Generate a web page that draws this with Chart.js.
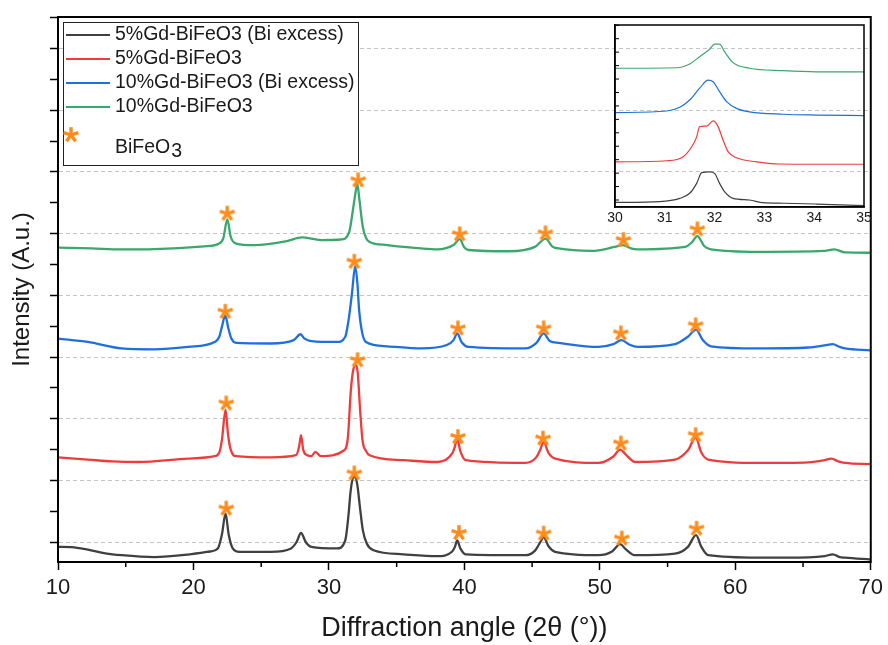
<!DOCTYPE html>
<html>
<head>
<meta charset="utf-8">
<script src="https://cdn.jsdelivr.net/npm/chart.js@4.4.0/dist/chart.umd.min.js"></script>
<style>
  html, body { margin: 0; padding: 0; background: #fff; }
  #wrap { position: relative; width: 888px; height: 645px; }
  #inset { position: absolute; left: 600px; top: 15px; }
</style>
</head>
<body>
<div id="wrap">
  <canvas id="xrd" width="888" height="645"></canvas>
  <canvas id="inset" width="280" height="225"></canvas>
</div>
<script>
// 2-theta positions and offset intensities (a.u.) for each sample
const angGd5Bi = [10.0,11.0,12.2,13.5,14.7,17.1,19.6,21.2,21.8,22.1,22.37,22.6,22.9,23.4,25.7,27.2,27.6,27.94,28.3,28.7,30.6,31.2,31.45,31.6,31.8,31.95,32.1,32.3,32.5,32.8,33.3,35.5,38.0,39.1,39.3,39.47,39.7,40.1,44.5,45.2,45.6,45.85,46.2,46.7,49.9,50.9,51.5,51.9,52.6,55.55,56.5,57.1,57.5,58.0,61.7,65.4,66.6,67.2,67.7,68.1,70.0];
const intGd5Bi = [-15,-16,-24,-36,-42,-48,-40,-30,-20,25,93,25,-20,-31,-31,-20,0,30,0,-15,-20,5,90,165,210,212,185,110,40,-5,-26,-39,-45,-30,-15,6,-20,-39,-42,-28,0,17,-12,-31,-42,-30,-6,-22,-42,-37,-15,23,-15,-42,-50,-49,-45,-39,-48,-50,-56];

const angGd5 = [10.0,12.2,14.0,15.9,19.6,21.56,21.9,22.1,22.37,22.55,22.75,23.15,25.7,27.57,27.8,27.94,28.1,28.4,28.7,29.0,29.4,31.13,31.4,31.62,31.78,31.95,32.12,32.3,32.48,32.75,33.0,35.5,38.0,39.1,39.3,39.47,39.7,40.1,44.5,45.3,45.6,45.85,46.2,46.7,49.9,51.0,51.5,51.9,52.6,55.55,56.5,57.07,57.5,58.0,61.7,65.4,66.5,67.08,67.6,68.1,70.0];
const intGd5 = [275,268,262,260,271,279,290,331,430,350,300,279,275,282,310,347,300,282,279,293,279,298,340,493,555,574,552,430,330,295,282,266,260,288,310,336,295,266,257,275,300,325,290,271,257,278,300,285,260,268,298,339,290,268,257,259,265,271,262,257,253];

const angGd10Bi = [10.0,12.2,14.7,17.1,19.6,21.56,21.9,22.1,22.35,22.55,22.8,23.15,25.7,27.4,27.9,28.2,28.7,30.6,31.2,31.45,31.7,31.94,32.1,32.23,32.45,32.73,34.3,36.8,38.7,39.2,39.47,39.8,40.3,44.5,45.3,45.85,46.3,46.96,49.9,51.0,51.6,52.2,52.8,55.55,56.5,57.1,57.6,58.2,61.7,65.4,66.6,67.2,67.7,68.1,70.0];
const intGd10Bi = [660,649,628,625,633,649,665,698,736,698,660,646,644,655,674,660,652,649,665,720,806,895,840,752,680,649,635,628,639,655,677,648,633,628,645,677,652,646,633,642,655,640,633,642,666,689,655,635,628,631,638,642,633,628,622];

const angGd10 = [10.0,12.5,14.7,17.1,20.8,21.8,22.2,22.5,22.75,23.15,24.5,26.9,28.0,29.4,30.9,31.5,31.75,31.9,32.1,32.25,32.5,32.75,33.0,34.3,36.8,38.0,39.2,39.65,40.0,40.3,43.3,45.2,46.0,46.5,46.96,49.4,51.1,51.7,52.3,52.8,56.3,56.8,57.2,57.7,58.2,61.7,66.6,67.3,68.1,70.0];
const intGd10 = [955,952,949,950,959,966,985,1046,990,968,963,976,988,979,981,1006,1070,1115,1160,1110,1022,985,973,963,952,949,963,982,955,947,943,957,984,958,952,944,957,963,952,949,957,972,992,960,949,941,944,949,939,938];

// BiFeO3 reflections marked above each pattern
const starAng = [22.42,31.87,39.6,45.85,51.62,57.14, 22.42,32.11,39.52,45.8,51.55,57.07, 22.35,31.87,39.52,45.85,51.55,57.07, 22.49,32.16,39.65,45.98,51.74,57.2];
const starInt = [109,223,30,28,12,44, 450,590,341,336,320,347, 747,909,693,693,677,703, 1065,1173,998,1001,979,1014];

// zoom on the (104)/(110) doublet
const insAngGd5Bi = [30.0,30.9,31.3,31.5,31.64,31.74,31.9,32.0,32.1,32.2,32.37,32.7,32.97,33.4,34.04,35.0];
const insIntGd5Bi = [-9,-6,6,25,62,102,105,99,62,31,6,0,-10,-12,-15,-21];
const insAngGd5 = [30.0,31.04,31.37,31.54,31.64,31.7,31.84,31.97,32.07,32.17,32.27,32.44,32.84,33.3,34.04,35.0];
const insIntGd5 = [142,146,161,198,235,273,275,294,273,223,180,157,142,134,133,133];
const insAngGd10Bi = [30.0,31.04,31.3,31.5,31.7,31.87,31.97,32.1,32.24,32.44,32.7,33.38,34.04,35.0];
const insIntGd10Bi = [325,331,345,372,416,446,440,403,366,341,328,319,316,314];
const insAngGd10 = [30.0,31.24,31.5,31.7,31.9,32.0,32.1,32.2,32.37,32.7,33.38,34.04,35.0];
const insIntGd10 = [490,492,506,533,561,580,580,552,511,490,481,477,477];

const seriesNames = ['5%Gd-BiFeO3 (Bi excess)', '5%Gd-BiFeO3', '10%Gd-BiFeO3 (Bi excess)', '10%Gd-BiFeO3'];
const seriesColors = ['#404040', '#ee3b3b', '#1f6fde', '#3aa86b'];
const starColor = '#ff8c1a';

const xTicks = [10,15,20,25,30,35,40,45,50,55,60,65,70];
const yTicks = [0,100,200,300,400,500,600,700,800,900,1000,1100,1200,1300,1400,1500,1600,1700];
const insXTicks = [30,31,32,33,34,35];
const insYTicks = [0,50,100,150,200,250,300,350,400,450,500,550,600,650];

const FONT = "'Liberation Sans', Arial, sans-serif";
Chart.defaults.font.family = FONT;

function pts(xs, ys) {
  return xs.map((x, i) => ({ x: x, y: ys[i] }));
}

// five-armed asterisk used as point marker
function asterisk(color) {
  const c = document.createElement('canvas');
  c.width = 20; c.height = 20;
  const g = c.getContext('2d');
  g.strokeStyle = color;
  g.lineWidth = 3.4;
  for (let k = 0; k < 5; k++) {
    const a = -Math.PI / 2 + k * 2 * Math.PI / 5;
    g.beginPath();
    g.moveTo(10, 10);
    g.lineTo(10 + 7.8 * Math.cos(a), 10 + 7.8 * Math.sin(a));
    g.stroke();
  }
  return c;
}
const star = asterisk(starColor);

function lineSet(i, xs, ys, w) {
  return {
    label: seriesNames[i],
    data: pts(xs, ys),
    borderColor: seriesColors[i],
    borderWidth: w,
    pointRadius: 0,
    cubicInterpolationMode: 'monotone',
    fill: false,
    order: 1
  };
}

const framePlugin = {
  id: 'frame',
  afterDraw(chart, args, opts) {
    const { ctx, chartArea: a } = chart;
    ctx.save();
    ctx.strokeStyle = '#000';
    ctx.lineWidth = opts.width;
    ctx.strokeRect(a.left, a.top, a.right - a.left, a.bottom - a.top);
    ctx.restore();
  }
};

// short minor ticks on the main x axis
const minorTicks = {
  id: 'minorTicks',
  afterDraw(chart) {
    const { ctx } = chart;
    const sx = chart.scales.x;
    ctx.save();
    ctx.strokeStyle = '#000';
    ctx.lineWidth = 1.5;
    xTicks.filter(v => v % 10 !== 0).forEach(v => {
      const px = sx.getPixelForValue(v);
      ctx.beginPath();
      ctx.moveTo(px, sx.top);
      ctx.lineTo(px, sx.top + 5);
      ctx.stroke();
    });
    ctx.restore();
  }
};

const legendBox = {
  id: 'legendBox',
  afterDraw(chart) {
    const ctx = chart.ctx;
    ctx.save();
    ctx.fillStyle = '#fff';
    ctx.fillRect(63, 22, 295, 143);
    ctx.strokeStyle = '#222';
    ctx.lineWidth = 1;
    ctx.strokeRect(63.5, 22.5, 295, 143);
    ctx.font = '19.5px ' + FONT;
    ctx.textBaseline = 'middle';
    ctx.fillStyle = '#1a1a1a';
    const rows = [35, 59, 83, 107];
    chart.data.datasets.filter(d => d.order === 1).forEach((d, i) => {
      ctx.strokeStyle = d.borderColor;
      ctx.lineWidth = 2;
      ctx.beginPath();
      ctx.moveTo(66, rows[i]);
      ctx.lineTo(110, rows[i]);
      ctx.stroke();
      ctx.fillText(d.label, 115, rows[i]);
    });
    ctx.drawImage(star, 71 - 10, 135 - 10);
    ctx.textBaseline = 'alphabetic';
    ctx.fillText('BiFeO', 115, 153);
    const w = ctx.measureText('BiFeO').width;
    ctx.fillText('3', 115 + w + 1, 157);
    ctx.restore();
  }
};

const datasets = [
  {
    type: 'scatter',
    label: 'BiFeO3',
    data: pts(starAng, starInt),
    pointStyle: star,
    pointRadius: 10,
    showLine: false,
    order: 0
  },
  lineSet(0, angGd5Bi, intGd5Bi, 2.3),
  lineSet(1, angGd5, intGd5, 2.3),
  lineSet(2, angGd10Bi, intGd10Bi, 2.3),
  lineSet(3, angGd10, intGd10, 2.3)
];

new Chart(document.getElementById('xrd'), {
  type: 'line',
  data: { datasets: datasets },
  options: {
    responsive: false,
    animation: false,
    layout: { padding: { top: 17, right: 15, left: 0, bottom: 0 } },
    plugins: {
      legend: { display: false },
      tooltip: { enabled: false },
      frame: { width: 2 }
    },
    scales: {
      x: {
        type: 'linear',
        min: 10,
        max: 70,
        afterBuildTicks: s => { s.ticks = xTicks.map(v => ({ value: v })); },
        afterFit: s => { s.height = 83; },
        ticks: {
          autoSkip: false,
          maxRotation: 0,
          padding: 5,
          color: '#1a1a1a',
          font: { size: 22 },
          callback: v => (v % 10 === 0 ? v : '')
        },
        grid: {
          drawOnChartArea: false,
          tickLength: 8,
          tickWidth: 1.5,
          tickColor: ctx => (ctx.tick && ctx.tick.value % 10 === 0 ? '#000' : 'rgba(0,0,0,0)')
        },
        border: { color: '#000', width: 2 },
        title: {
          display: true,
          text: 'Diffraction angle (2θ (°))',
          color: '#1a1a1a',
          font: { size: 27 },
          padding: { top: 0, bottom: 0 }
        }
      },
      y: {
        min: -64,
        max: 1702,
        afterBuildTicks: s => { s.ticks = yTicks.map(v => ({ value: v })); },
        afterFit: s => { s.width = 58; },
        ticks: { display: false },
        grid: {
          color: ctx => (ctx.tick && ctx.tick.value % 200 === 0 ? '#c4c4c4' : 'rgba(0,0,0,0)'),
          lineWidth: 1,
          tickLength: 8,
          tickWidth: 1.5,
          tickColor: '#000'
        },
        border: { color: '#000', width: 2, dash: [4, 3] },
        title: {
          display: true,
          text: 'Intensity (A.u.)',
          color: '#1a1a1a',
          font: { size: 24 },
          padding: { top: 8, bottom: 0 }
        }
      }
    }
  },
  plugins: [framePlugin, minorTicks, legendBox]
});

// inward ticks on the inset's left axis
const insetTicks = {
  id: 'insetTicks',
  afterDraw(chart) {
    const { ctx } = chart;
    const sy = chart.scales.y;
    const left = chart.chartArea.left;
    ctx.save();
    ctx.strokeStyle = '#000';
    ctx.lineWidth = 1;
    insYTicks.forEach(v => {
      const py = sy.getPixelForValue(v);
      ctx.beginPath();
      ctx.moveTo(left, py);
      ctx.lineTo(left + 4, py);
      ctx.stroke();
    });
    ctx.restore();
  }
};

new Chart(document.getElementById('inset'), {
  type: 'line',
  data: {
    datasets: [
      lineSet(0, insAngGd5Bi, insIntGd5Bi, 1.2),
      lineSet(1, insAngGd5, insIntGd5, 1.2),
      lineSet(2, insAngGd10Bi, insIntGd10Bi, 1.2),
      lineSet(3, insAngGd10, insIntGd10, 1.2)
    ]
  },
  options: {
    responsive: false,
    animation: false,
    layout: { padding: { left: 15, right: 16, top: 10, bottom: 0 } },
    plugins: {
      legend: { display: false },
      tooltip: { enabled: false },
      frame: { width: 1.5 }
    },
    scales: {
      x: {
        type: 'linear',
        min: 30,
        max: 35,
        afterBuildTicks: s => { s.ticks = insXTicks.map(v => ({ value: v })); },
        afterFit: s => { s.height = 33; },
        ticks: { autoSkip: false, maxRotation: 0, padding: 3, color: '#1a1a1a', font: { size: 14 } },
        grid: { drawOnChartArea: false, drawTicks: false },
        border: { color: '#000', width: 1.5 }
      },
      y: {
        min: -26,
        max: 651,
        afterBuildTicks: s => { s.ticks = insYTicks.map(v => ({ value: v })); },
        afterFit: s => { s.width = 0; },
        ticks: { display: false },
        grid: { drawOnChartArea: false, drawTicks: false },
        border: { color: '#000', width: 1.5 }
      }
    }
  },
  plugins: [framePlugin, insetTicks]
});
</script>
</body>
</html>
